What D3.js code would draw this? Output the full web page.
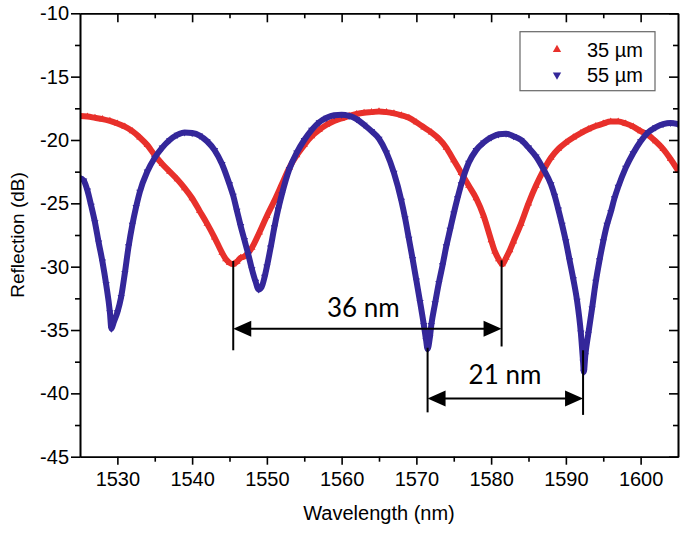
<!DOCTYPE html>
<html>
<head>
<meta charset="utf-8">
<script src="https://cdn.jsdelivr.net/npm/d3@7"></script>
<style>
  html, body { margin: 0; padding: 0; background: #fff; }
  svg { display: block; }
</style>
</head>
<body>
<svg id="chart" width="685" height="533"></svg>
<script>
// ---------------- DATA ----------------
const xTicks = [1530, 1540, 1550, 1560, 1570, 1580, 1590, 1600];
const xMinorTicks = [1535, 1545, 1555, 1565, 1575, 1585, 1595];
const yTicks = [-45, -40, -35, -30, -25, -20, -15, -10];
const yMinorTicks = [-42.5, -37.5, -32.5, -27.5, -22.5, -17.5, -12.5];

const seriesNames = ["35 \u00b5m", "55 \u00b5m"];

// 35 µm series
const wl35 = [1525,1526,1527,1528,1529,1530,1531,1532,1533,1534,1535,1536,1537,1538,1539,1540,1541,1542,1543,1544,1544.5,1545,1545.5,1546,1546.5,1547,1548,1549,1550,1551,1552,1553,1554,1555,1556,1557,1558,1559,1560,1561,1562,1563,1564,1565,1566,1567,1568,1569,1570,1571,1572,1573,1574,1575,1576,1577,1578,1579,1580,1580.5,1581,1581.5,1582,1582.5,1583,1584,1585,1586,1587,1588,1589,1590,1591,1592,1593,1594,1595,1596,1597,1598,1599,1600,1601,1602,1603,1604,1605];
const refl35 = [-18.1,-18.15,-18.25,-18.35,-18.5,-18.7,-18.95,-19.3,-19.8,-20.4,-21.2,-21.9,-22.5,-23.1,-23.8,-24.6,-25.6,-26.6,-27.7,-28.9,-29.4,-29.7,-29.8,-29.6,-29.3,-29.2,-28.5,-27.3,-26.0,-24.8,-23.5,-22.2,-21.2,-20.4,-19.7,-19.2,-18.8,-18.5,-18.3,-18.1,-17.95,-17.85,-17.8,-17.75,-17.8,-17.9,-18.05,-18.25,-18.6,-19.0,-19.4,-19.9,-20.6,-21.6,-22.6,-23.6,-24.6,-26.0,-27.9,-28.8,-29.4,-29.8,-29.3,-28.7,-28.0,-26.6,-25.0,-23.6,-22.4,-21.4,-20.7,-20.2,-19.8,-19.45,-19.15,-18.9,-18.7,-18.55,-18.55,-18.7,-18.95,-19.3,-19.6,-20.1,-20.7,-21.5,-22.4];

// 55 µm series
const wl55 = [1525,1525.5,1526,1526.5,1527,1527.5,1528,1528.5,1529,1529.2,1529.5,1530,1530.5,1531,1531.5,1532,1532.5,1533,1534,1535,1536,1537,1538,1539,1540,1541,1542,1543,1544,1545,1545.5,1546,1546.5,1547,1547.5,1548,1548.5,1548.9,1549.3,1549.7,1550,1550.5,1551,1551.5,1552,1553,1554,1555,1556,1557,1558,1559,1560,1561,1562,1563,1564,1565,1566,1567,1568,1568.5,1569,1569.5,1570,1570.5,1571,1571.3,1571.5,1571.8,1572,1572.5,1573,1573.5,1574,1574.5,1575,1575.5,1576,1577,1578,1579,1580,1581,1582,1583,1584,1585,1586,1587,1588,1588.5,1589,1589.5,1590,1590.5,1591,1591.5,1592,1592.3,1592.4,1592.6,1593,1593.5,1594,1594.5,1595,1595.5,1596,1596.5,1597,1598,1599,1600,1601,1602,1603,1604,1605];
const refl55 = [-23.0,-23.2,-24.0,-25.2,-26.5,-28.1,-29.6,-31.4,-33.6,-34.9,-34.4,-33.6,-32.4,-30.5,-28.4,-26.7,-25.3,-24.1,-22.5,-21.4,-20.6,-20.0,-19.6,-19.4,-19.45,-19.65,-20.1,-20.8,-21.9,-23.5,-24.4,-25.6,-26.8,-27.9,-29.0,-30.2,-31.2,-31.8,-31.6,-30.8,-30.0,-28.5,-26.9,-25.5,-24.3,-22.3,-21.0,-20.0,-19.2,-18.6,-18.25,-18.05,-18.0,-18.1,-18.35,-18.8,-19.3,-19.9,-21.0,-22.6,-24.8,-26.2,-27.8,-29.4,-31.1,-32.8,-34.6,-35.8,-36.5,-35.6,-34.6,-32.9,-31.3,-29.9,-28.4,-27.1,-25.8,-24.6,-23.5,-21.8,-20.8,-20.2,-19.8,-19.55,-19.5,-19.7,-20.0,-20.6,-21.3,-22.3,-23.5,-24.4,-25.5,-26.7,-28.0,-29.5,-31.0,-32.7,-35.2,-37.5,-38.3,-37.0,-35.3,-33.3,-31.2,-29.5,-28.0,-26.7,-25.7,-24.6,-23.7,-22.2,-21.05,-20.1,-19.4,-19.0,-18.75,-18.65,-18.75];

// Spacing annotations (data units)
const annotLabels = ["36 nm", "21 nm"];
const annotX1 = [1545.5, 1571.5];
const annotX2 = [1581.4, 1592.3];
const annotArrowY = [-34.9, -40.4];
const annotTop1 = [-29.55, -36.4];
const annotTop2 = [-29.5, -36.6];
const annotBottom1 = [-36.6, -41.5];
const annotBottom2 = [-36.3, -41.7];
const annotTextX = [1562.9, 1581.85];
const annotTextY = [-34.0, -39.3];

// ---------------- CHART ----------------
const colors = ["#e8302b", "#34279a"];
const axisFamily = "'Liberation Sans', Arial, sans-serif";
const W = 685, H = 533;
const margin = { left: 80, right: W - 678, top: 13.3, bottom: H - 456.7 };
const svg = d3.select("#chart");

const x = d3.scaleLinear().domain([1525, 1605]).range([margin.left, W - margin.right]);
const y = d3.scaleLinear().domain([-45, -10]).range([H - margin.bottom, margin.top]);

const series = [
  { pts: wl35.map((w, i) => [w, refl35[i]]), color: colors[0], down: false },
  { pts: wl55.map((w, i) => [w, refl55[i]]), color: colors[1], down: true }
];

const line = d3.line().x(d => x(d[0])).y(d => y(d[1])).curve(d3.curveMonotoneX);
const tri = d3.symbol().type(d3.symbolTriangle).size(22);

svg.append("clipPath").attr("id", "plotclip")
  .append("rect")
  .attr("x", x(1525)).attr("y", y(-10))
  .attr("width", x(1605) - x(1525)).attr("height", y(-45) - y(-10));

const plot = svg.append("g").attr("clip-path", "url(#plotclip)");

series.forEach(s => {
  plot.append("path")
    .datum(s.pts)
    .attr("d", line)
    .attr("fill", "none")
    .attr("stroke", s.color)
    .attr("stroke-width", 6)
    .attr("stroke-linejoin", "round");
  plot.selectAll(null)
    .data(s.pts)
    .join("path")
    .attr("d", tri)
    .attr("transform", d => `translate(${x(d[0])},${y(d[1])})` + (s.down ? " rotate(180)" : ""))
    .attr("fill", s.color);
});

// Axes
const fmt = d => String(d);
function styleAxis(g) {
  g.select(".domain").attr("stroke", "#000").attr("stroke-width", 1.6);
  g.selectAll(".tick line").attr("stroke", "#000").attr("stroke-width", 1.6);
  g.selectAll(".tick text").attr("fill", "#000")
    .style("font-family", axisFamily).style("font-size", "20px");
}

svg.append("g").attr("transform", `translate(0,${y(-45)})`)
  .call(d3.axisBottom(x).tickValues(xTicks).tickFormat(fmt).tickSize(8).tickPadding(7).tickSizeOuter(0))
  .call(styleAxis);
svg.append("g").attr("transform", `translate(0,${y(-45)})`)
  .call(d3.axisBottom(x).tickValues(xMinorTicks).tickFormat("").tickSize(5).tickSizeOuter(0))
  .call(styleAxis);
svg.append("g").attr("transform", `translate(0,${y(-10)})`)
  .call(d3.axisTop(x).tickValues(xTicks).tickFormat("").tickSize(-9).tickSizeOuter(0))
  .call(styleAxis);
svg.append("g").attr("transform", `translate(0,${y(-10)})`)
  .call(d3.axisTop(x).tickValues(xMinorTicks).tickFormat("").tickSize(-5).tickSizeOuter(0))
  .call(styleAxis);
svg.append("g").attr("transform", `translate(${x(1525)},0)`)
  .call(d3.axisLeft(y).tickValues(yTicks).tickFormat(fmt).tickSize(9).tickPadding(2).tickSizeOuter(0))
  .call(styleAxis);
svg.append("g").attr("transform", `translate(${x(1525)},0)`)
  .call(d3.axisLeft(y).tickValues(yMinorTicks).tickFormat("").tickSize(5).tickSizeOuter(0))
  .call(styleAxis);
svg.append("g").attr("transform", `translate(${x(1605)},0)`)
  .call(d3.axisRight(y).tickValues(yTicks).tickFormat("").tickSize(-9).tickSizeOuter(0))
  .call(styleAxis);
svg.append("g").attr("transform", `translate(${x(1605)},0)`)
  .call(d3.axisRight(y).tickValues(yMinorTicks).tickFormat("").tickSize(-5).tickSizeOuter(0))
  .call(styleAxis);

// Axis titles
svg.append("text")
  .attr("x", (x(1525) + x(1605)) / 2).attr("y", 520)
  .attr("text-anchor", "middle").attr("fill", "#000")
  .style("font-family", axisFamily).style("font-size", "20px")
  .text("Wavelength (nm)");
svg.append("text")
  .attr("transform", `translate(24,${(y(-10) + y(-45)) / 2}) rotate(-90)`)
  .attr("text-anchor", "middle").attr("fill", "#000")
  .style("font-family", axisFamily).style("font-size", "19px")
  .text("Reflection (dB)");

// Annotations
const ann = svg.append("g");
const ah = 18, aw = 8;
annotLabels.forEach((lab, i) => {
  const x1 = x(annotX1[i]), x2 = x(annotX2[i]), ay = y(annotArrowY[i]);
  ann.append("line").attr("x1", x1).attr("x2", x1).attr("y1", y(annotTop1[i])).attr("y2", y(annotBottom1[i]))
    .attr("stroke", "#000").attr("stroke-width", 2);
  ann.append("line").attr("x1", x2).attr("x2", x2).attr("y1", y(annotTop2[i])).attr("y2", y(annotBottom2[i]))
    .attr("stroke", "#000").attr("stroke-width", 2);
  ann.append("line").attr("x1", x1 + ah - 2).attr("x2", x2 - ah + 2).attr("y1", ay).attr("y2", ay)
    .attr("stroke", "#000").attr("stroke-width", 2);
  ann.append("path").attr("d", `M${x1},${ay} L${x1 + ah},${ay - aw} L${x1 + ah},${ay + aw} Z`).attr("fill", "#000");
  ann.append("path").attr("d", `M${x2},${ay} L${x2 - ah},${ay - aw} L${x2 - ah},${ay + aw} Z`).attr("fill", "#000");
  ann.append("text")
    .attr("x", x(annotTextX[i])).attr("y", y(annotTextY[i]))
    .attr("text-anchor", "middle").attr("fill", "#000")
    .style("font-family", "Lato, 'Open Sans', sans-serif").style("font-size", "26px")
    .text(lab);
});

// Legend
const lg = svg.append("g");
lg.append("rect").attr("x", 520).attr("y", 31.7).attr("width", 135).attr("height", 59)
  .attr("fill", "#fff").attr("stroke", "#666").attr("stroke-width", 1.2);
seriesNames.forEach((name, i) => {
  const ly = 49.5 + i * 25.5;
  lg.append("path").attr("d", d3.symbol().type(d3.symbolTriangle).size(30))
    .attr("transform", `translate(557,${ly})` + (i === 1 ? " rotate(180)" : ""))
    .attr("fill", colors[i]);
  lg.append("text").attr("x", 587).attr("y", ly + 7).attr("fill", "#000")
    .style("font-family", axisFamily).style("font-size", "20px")
    .text(name);
});
</script>
</body>
</html>
